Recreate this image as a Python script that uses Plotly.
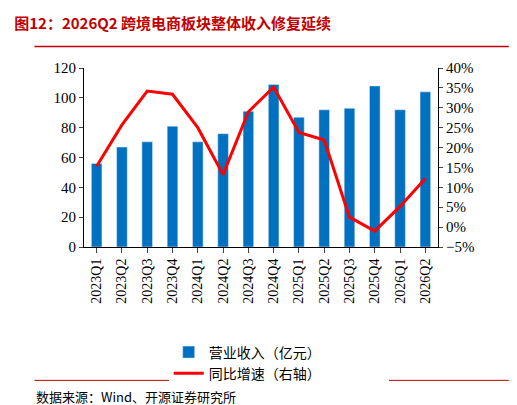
import plotly.graph_objects as go

quarters = ["2023Q1","2023Q2","2023Q3","2023Q4","2024Q1","2024Q2","2024Q3","2024Q4",
            "2025Q1","2025Q2","2025Q3","2025Q4","2026Q1","2026Q2"]
revenue = [56, 67, 70.5, 81, 70.5, 76, 91, 109, 87, 92, 93, 108, 92, 104]
yoy = [15.3, 25.7, 34.2, 33.4, 25.0, 13.2, 29.0, 35.2, 23.8, 21.9, 2.5, -1.0, 5.2, 12.2]

fig = go.Figure()
fig.add_trace(go.Bar(x=quarters, y=revenue, name="营业收入（亿元）", marker_color="#0070C0", width=0.42))
fig.add_trace(go.Scatter(x=quarters, y=yoy, name="同比增速（右轴）", yaxis="y2", mode="lines",
                         line=dict(color="#FF0000", width=3)))

font = "Noto Sans CJK SC"
serif = "Liberation Serif"
fig.update_layout(
    width=517, height=405, plot_bgcolor="white", paper_bgcolor="white",
    margin=dict(l=76, r=87, t=60, b=166, autoexpand=False),
    font=dict(family=serif, size=15, color="black"),
    title=dict(text="<b>图12：2026Q2 跨境电商板块整体收入修复延续</b>", x=0.012, y=0.975, xanchor="left",
               yanchor="top", font=dict(family=font, size=15, color="#C00000")),
    xaxis=dict(tickangle=-90, showline=True, linecolor="black", ticks="outside", ticklen=5,
               tickfont=dict(family=serif, size=14)),
    yaxis=dict(range=[0, 120], dtick=20, showline=True, linecolor="black", showgrid=False,
               ticks="outside", ticklen=4, zeroline=False),
    yaxis2=dict(range=[-5, 40], dtick=5, overlaying="y", side="right", showline=True,
                linecolor="black", showgrid=False, ticks="outside", ticklen=4,
                ticksuffix="%", zeroline=False),
    legend=dict(orientation="h", x=0.55, xanchor="center", y=-0.5, yanchor="top",
                font=dict(family=font, size=14), entrywidth=175, entrywidthmode="pixels"),
    bargap=0.5,
)
fig.add_shape(type="line", xref="paper", yref="paper", x0=-0.14, x1=1.2, y0=1.12, y1=1.12,
              line=dict(color="#C00000", width=1.5))
fig.add_shape(type="line", xref="paper", yref="paper", x0=-0.14, x1=1.2, y0=-0.745, y1=-0.745,
              line=dict(color="#C00000", width=1))
fig.add_annotation(text="数据来源：Wind、开源证券研究所", xref="paper", yref="paper", x=-0.14, y=-0.77,
                   xanchor="left", yanchor="top", showarrow=False, font=dict(family=font, size=13))
fig.write_html("out.html")
